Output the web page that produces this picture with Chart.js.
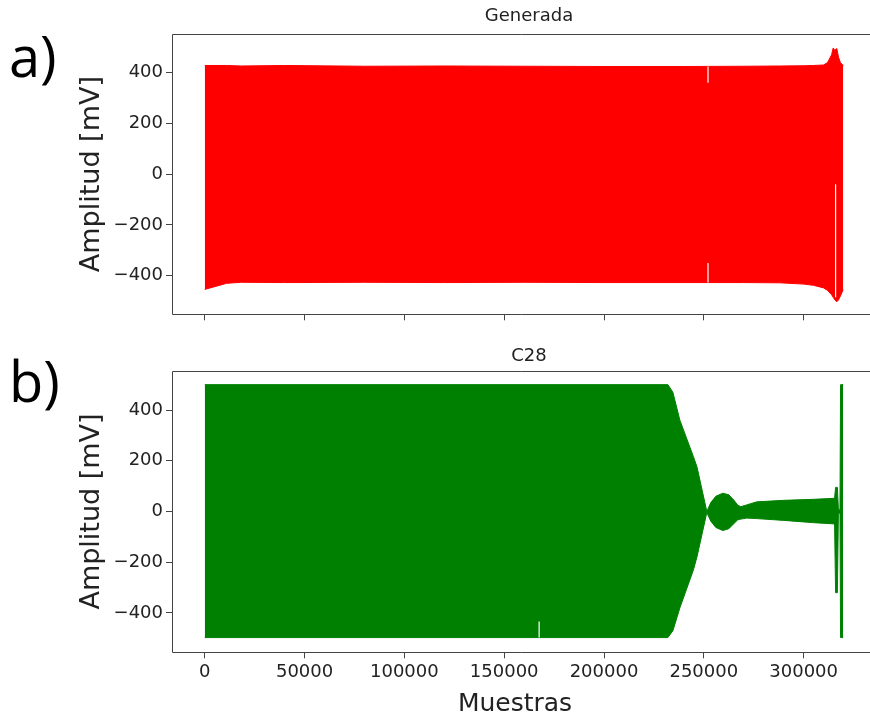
<!DOCTYPE html>
<html>
<head>
<meta charset="utf-8">
<script src="https://cdn.jsdelivr.net/npm/chart.js@4.4.1/dist/chart.umd.min.js"></script>
<style>
  html, body { margin: 0; padding: 0; background: #fff; overflow: hidden; }
  #wrap { position: relative; width: 870px; height: 717px; overflow: hidden; }
  canvas { position: absolute; left: 0; }
  #c1 { top: 0; }
  #c2 { top: 340px; }
</style>
</head>
<body>
<div id="wrap">
  <canvas id="c1" width="870" height="340"></canvas>
  <canvas id="c2" width="870" height="377"></canvas>
</div>
<script>
// ticks
const xTicks = [0, 50000, 100000, 150000, 200000, 250000, 300000];
const xTickLabels = ['0', '50000', '100000', '150000', '200000', '250000', '300000'];
const yTicks = [-400, -200, 0, 200, 400];
const yTickLabels = ['−400', '−200', '0', '200', '400'];

// a) Generada : envelope of the signal (upper / lower)
const genX =     [0, 11000, 18000, 40000, 80000, 120000, 160000, 200000, 240000, 270000, 288000, 300000, 305000, 310000, 312000, 314000, 314800, 315600, 316600, 317500, 318400, 319800];
const genUpper = [428, 428, 426, 428, 425, 426, 425, 424, 424, 425, 426, 427, 428, 430, 440, 470, 497, 488, 495, 460, 440, 428];
const genLower = [-454, -430, -426, -427, -426, -427, -426, -427, -427, -427, -428, -433, -438, -448, -458, -475, -485, -495, -503, -495, -480, -455];
// short drop-outs (white gaps) inside the band: x, from, to
const genGapX =    [252100, 252100, 316000];
const genGapFrom = [424, -427, -40];
const genGapTo =   [360, -350, -485];

// b) C28
const c28X =     [0, 232000, 234500, 238000, 244800, 246600, 251500, 253500, 256000, 259500, 262500, 265000, 267000, 268500, 271500, 276500, 290000, 305000, 315500, 316000, 316900, 317400, 318200, 318500, 319800];
const c28Upper = [500, 500, 470, 360, 216, 175, 0, 35, 60, 72, 66, 45, 25, 19, 26, 38, 44, 48, 52, 95, 95, 10, 5, 500, 500];
const c28Lower = [-497, -497, -470, -380, -230, -178, -4, -38, -63, -75, -68, -48, -33, -30, -26, -28, -35, -44, -49, -320, -320, -10, -5, -497, -497];
const c28GapX =    [167500];
const c28GapFrom = [-497];
const c28GapTo =   [-434];

function pts(xs, ys) { return xs.map((x, i) => ({ x: x, y: ys[i] })); }

function gapSets(gx, from, to) {
  return gx.map((x, i) => ({
    data: [{ x: x, y: from[i] }, { x: x, y: to[i] }],
    borderColor: '#ffffff', borderWidth: 1.2, pointRadius: 0, fill: false, order: -1
  }));
}

const frameText = {
  id: 'frameText',
  afterDraw(chart, args, o) {
    const { ctx, chartArea: a } = chart;
    const l = Math.round(a.left) + 0.5, t = Math.round(a.top) + 0.5, b = Math.round(a.bottom) + 0.5;
    ctx.save();
    ctx.strokeStyle = '#444';
    ctx.lineWidth = 1;
    ctx.beginPath();
    ctx.moveTo(chart.width, t); ctx.lineTo(l, t); ctx.lineTo(l, b); ctx.lineTo(chart.width, b);
    ctx.stroke();
    ctx.fillStyle = '#222';
    ctx.textBaseline = 'middle';
    ctx.textAlign = 'center';
    ctx.font = '18px "DejaVu Sans"';
    ctx.fillText(o.title, o.titleX, o.titleY);
    if (o.xlabel) {
      ctx.font = '25px "DejaVu Sans"';
      ctx.fillText(o.xlabel, o.xlabelX, o.xlabelY);
    }
    ctx.fillStyle = '#000';
    ctx.textAlign = 'left';
    ctx.textBaseline = 'alphabetic';
    ctx.font = '56px "Open Sans"';
    ctx.fillText(o.letter, o.letterX, o.letterY);
    ctx.restore();
  }
};

function makeChart(id, xs, up, lo, gaps, color, yMin, yMax, showX, pad, xH, text) {
  return new Chart(document.getElementById(id), {
    type: 'line',
    data: {
      datasets: [
        { data: pts(xs, up), borderColor: color, borderWidth: 1, pointRadius: 0, fill: false, tension: 0 },
        { data: pts(xs, lo), borderColor: color, borderWidth: 1, pointRadius: 0, fill: '-1', backgroundColor: color, tension: 0 }
      ].concat(gaps)
    },
    options: {
      responsive: false,
      animation: false,
      devicePixelRatio: 1,
      layout: { padding: pad },
      plugins: { legend: { display: false }, tooltip: { enabled: false }, frameText: text },
      scales: {
        x: {
          type: 'linear',
          min: -16400,
          max: 333240,
          afterBuildTicks: s => { s.ticks = xTicks.map(v => ({ value: v })); },
          afterFit: s => { s.height = xH; },
          border: { display: false },
          grid: { drawOnChartArea: false, tickLength: 6, color: '#444' },
          ticks: {
            display: showX,
            padding: 3,
            maxRotation: 0,
            autoSkip: false,
            color: '#222',
            font: { family: 'DejaVu Sans', size: 18 },
            callback: (v, i) => xTickLabels[i]
          }
        },
        y: {
          min: yMin,
          max: yMax,
          afterBuildTicks: s => { s.ticks = yTicks.map(v => ({ value: v })); },
          afterFit: s => { s.width = 172; },
          border: { display: false },
          grid: { drawOnChartArea: false, tickLength: 6, color: '#444' },
          ticks: {
            padding: 3,
            color: '#222',
            font: { family: 'DejaVu Sans', size: 18 },
            callback: (v, i) => yTickLabels[i]
          },
          title: {
            display: true,
            text: 'Amplitud [mV]',
            color: '#222',
            font: { family: 'DejaVu Sans', size: 27, lineHeight: 1 },
            padding: { top: 78, bottom: 0 }
          }
        }
      }
    },
    plugins: [frameText]
  });
}

makeChart('c1', genX, genUpper, genLower, gapSets(genGapX, genGapFrom, genGapTo), '#ff0000', -552, 552, false,
  { top: 34, left: 0, right: 0, bottom: 15.7 }, 10,
  { title: 'Generada', titleX: 529, titleY: 16, letter: 'a)', letterX: 9, letterY: 77 });

makeChart('c2', c28X, c28Upper, c28Lower, gapSets(c28GapX, c28GapFrom, c28GapTo), '#008000', -555, 555, true,
  { top: 30.7, left: 0, right: 0, bottom: 0 }, 64.7,
  { title: 'C28', titleX: 529, titleY: 16, letter: 'b)', letterX: 9, letterY: 62,
    xlabel: 'Muestras', xlabelX: 515, xlabelY: 364 });
</script>
</body>
</html>
